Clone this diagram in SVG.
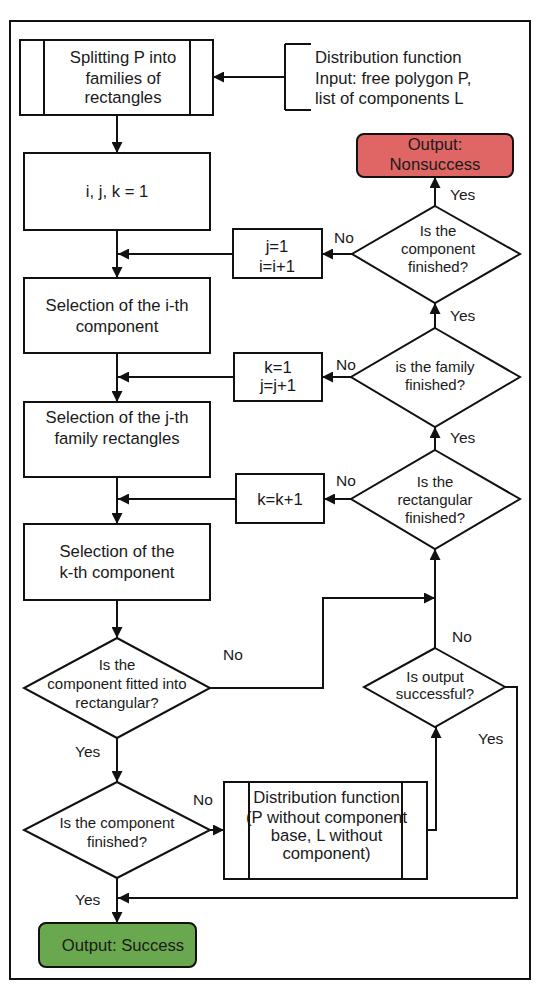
<svg xmlns="http://www.w3.org/2000/svg" width="539" height="1000" viewBox="0 0 539 1000">
<style>
.b{fill:#fff;stroke:#111;stroke-width:2}
.c{fill:none;stroke:#111;stroke-width:2}
.t{font-family:"Liberation Sans",Arial,sans-serif;font-size:16.7px;fill:#1a1a1a;text-anchor:middle}
.d{font-family:"Liberation Sans",Arial,sans-serif;font-size:15px;fill:#1a1a1a;text-anchor:middle}
.l{font-family:"Liberation Sans",Arial,sans-serif;font-size:15.5px;fill:#1a1a1a}
.s{font-family:"Liberation Sans",Arial,sans-serif;font-size:16.7px;fill:#1a1a1a}
</style>
<defs>
<marker id="a" viewBox="0 0 10 10" refX="10" refY="5" markerWidth="11" markerHeight="11" markerUnits="userSpaceOnUse" orient="auto">
<path d="M0,0 L10,5 L0,10 z" fill="#111"/>
</marker>
</defs>
<rect x="10" y="21" width="520" height="958" fill="#fff" stroke="#111" stroke-width="2"/>

<g id="connectors">
<polyline class="c" points="285,44 285,110"/>
<polyline class="c" points="285,44 311,44"/>
<polyline class="c" points="285,110 311,110"/>
<line class="c" x1="285" y1="77" x2="213" y2="77" marker-end="url(#a)"/>
<line class="c" x1="117" y1="115" x2="117" y2="153" marker-end="url(#a)"/>
<line class="c" x1="117" y1="230" x2="117" y2="278" marker-end="url(#a)"/>
<line class="c" x1="117" y1="353" x2="117" y2="402" marker-end="url(#a)"/>
<line class="c" x1="117" y1="477" x2="117" y2="524" marker-end="url(#a)"/>
<line class="c" x1="117" y1="600" x2="117" y2="638" marker-end="url(#a)"/>
<line class="c" x1="117" y1="738" x2="117" y2="782" marker-end="url(#a)"/>
<line class="c" x1="117" y1="878" x2="117" y2="923" marker-end="url(#a)"/>
<line class="c" x1="352" y1="254" x2="322" y2="254" marker-end="url(#a)"/>
<line class="c" x1="233" y1="254" x2="118" y2="254" marker-end="url(#a)"/>
<line class="c" x1="351" y1="377" x2="322" y2="377" marker-end="url(#a)"/>
<line class="c" x1="234" y1="377" x2="118" y2="377" marker-end="url(#a)"/>
<line class="c" x1="351" y1="499" x2="324" y2="499" marker-end="url(#a)"/>
<line class="c" x1="236" y1="499" x2="118" y2="499" marker-end="url(#a)"/>
<line class="c" x1="435" y1="206" x2="435" y2="177" marker-end="url(#a)"/>
<line class="c" x1="435" y1="328" x2="435" y2="303" marker-end="url(#a)"/>
<line class="c" x1="435" y1="450" x2="435" y2="427" marker-end="url(#a)"/>
<line class="c" x1="435" y1="648" x2="435" y2="549" marker-end="url(#a)"/>
<polyline class="c" points="210,688 323,688 323,598 435,598" marker-end="url(#a)"/>
<polyline class="c" points="505,687 517,687 517,898 118,898" marker-end="url(#a)"/>
<line class="c" x1="210" y1="830" x2="224" y2="830" marker-end="url(#a)"/>
<polyline class="c" points="427,830 436,830 436,727" marker-end="url(#a)"/>
</g>

<g id="splitting">
<rect class="b" x="20" y="40" width="193" height="75"/>
<line class="c" x1="44" y1="40" x2="44" y2="115"/>
<line class="c" x1="190" y1="40" x2="190" y2="115"/>
<text class="t" x="123" y="63">Splitting P into</text>
<text class="t" x="123" y="83.5">families of</text>
<text class="t" x="123" y="103">rectangles</text>
</g>

<g id="input">
<text class="s" x="315" y="63">Distribution function</text>
<text class="s" x="315" y="84">Input: free polygon P,</text>
<text class="s" x="315" y="104">list of components L</text>
</g>

<g id="init">
<rect class="b" x="24" y="153" width="186" height="77"/>
<text class="t" x="117" y="197">i, j, k = 1</text>
</g>

<g id="sel-i">
<rect class="b" x="24" y="278" width="186" height="75"/>
<text class="t" x="117" y="311">Selection of the i-th</text>
<text class="t" x="117" y="332">component</text>
</g>

<g id="sel-j">
<rect class="b" x="24" y="402" width="186" height="75"/>
<text class="t" x="117" y="423">Selection of the j-th</text>
<text class="t" x="117" y="444">family rectangles</text>
</g>

<g id="sel-k">
<rect class="b" x="24" y="524" width="186" height="76"/>
<text class="t" x="117" y="557">Selection of the</text>
<text class="t" x="117" y="578">k-th component</text>
</g>

<g id="fitted">
<polygon class="b" points="117,638 210,688 117,738 24,688"/>
<text class="d" x="117" y="670">Is the</text>
<text class="d" x="117" y="689">component fitted into</text>
<text class="d" x="117" y="708">rectangular?</text>
</g>

<g id="comp-finished">
<polygon class="b" points="117,782 210,830 117,878 24,830"/>
<text class="d" x="117" y="828">Is the component</text>
<text class="d" x="117" y="847">finished?</text>
</g>

<g id="dist2">
<rect class="b" x="224" y="782" width="203" height="97"/>
<line class="c" x1="249" y1="782" x2="249" y2="879"/>
<line class="c" x1="402" y1="782" x2="402" y2="879"/>
<text class="t" x="326.5" y="803">Distribution function</text>
<text class="t" x="326.5" y="823">(P without component</text>
<text class="t" x="326.5" y="841">base, L without</text>
<text class="t" x="326.5" y="859">component)</text>
</g>

<g id="success">
<rect x="39" y="923" width="157" height="44" rx="7" fill="#6aa84f" stroke="#111" stroke-width="2"/>
<text class="t" x="123" y="951">Output: Success</text>
</g>

<g id="nonsuccess">
<rect x="357" y="134" width="156" height="43" rx="7" fill="#e06666" stroke="#111" stroke-width="2"/>
<text class="t" x="435" y="150">Output:</text>
<text class="t" x="435" y="170">Nonsuccess</text>
</g>

<g id="d1">
<polygon class="b" points="435,206 520,254 435,303 352,254"/>
<text class="d" x="438" y="236">Is the</text>
<text class="d" x="438" y="254">component</text>
<text class="d" x="438" y="272">finished?</text>
</g>

<g id="j1">
<rect class="b" x="233" y="229" width="89" height="49"/>
<text class="t" x="277" y="252">j=1</text>
<text class="t" x="277" y="272">i=i+1</text>
</g>

<g id="d2">
<polygon class="b" points="435,328 520,377 435,427 351,377"/>
<text class="d" x="435" y="372">is the family</text>
<text class="d" x="435" y="390">finished?</text>
</g>

<g id="k1">
<rect class="b" x="234" y="353" width="88" height="48"/>
<text class="t" x="278" y="373">k=1</text>
<text class="t" x="278" y="391">j=j+1</text>
</g>

<g id="d3">
<polygon class="b" points="435,450 520,499 435,549 351,499"/>
<text class="d" x="435" y="487">Is the</text>
<text class="d" x="435" y="505">rectangular</text>
<text class="d" x="435" y="523">finished?</text>
</g>

<g id="kk1">
<rect class="b" x="236" y="474" width="88" height="49"/>
<text class="t" x="280" y="505">k=k+1</text>
</g>

<g id="d5">
<polygon class="b" points="435,648 505,687 435,727 364,687"/>
<text class="d" x="435" y="682">Is output</text>
<text class="d" x="435" y="699">successful?</text>
</g>

<g id="labels">
<text class="l" x="334" y="243">No</text>
<text class="l" x="450" y="200">Yes</text>
<text class="l" x="450" y="321">Yes</text>
<text class="l" x="336" y="370">No</text>
<text class="l" x="450" y="443">Yes</text>
<text class="l" x="336" y="486">No</text>
<text class="l" x="223" y="660">No</text>
<text class="l" x="452" y="642">No</text>
<text class="l" x="478" y="744">Yes</text>
<text class="l" x="75" y="757">Yes</text>
<text class="l" x="193" y="805">No</text>
<text class="l" x="75" y="905">Yes</text>
</g>
</svg>
